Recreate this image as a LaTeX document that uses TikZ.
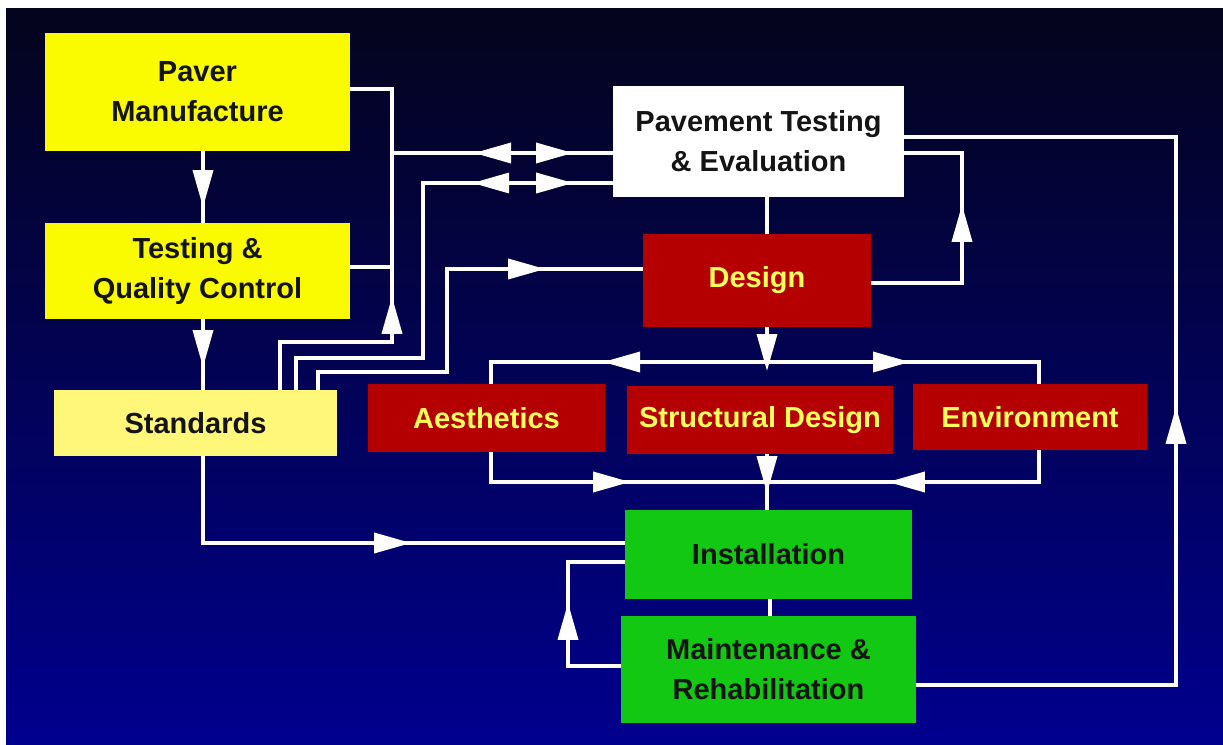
\documentclass[tikz,border=0pt]{standalone}
\usepackage{fontspec}
\setmainfont{Liberation Sans}
\usetikzlibrary{arrows.meta,decorations.markings,calc}
\definecolor{bgtop}{HTML}{04041C}
\definecolor{bgbot}{HTML}{00008E}
\definecolor{yel}{HTML}{FAFA00}
\definecolor{paleyel}{HTML}{FFF77A}
\definecolor{dred}{HTML}{B40000}
\definecolor{grn}{HTML}{12C812}
\definecolor{ytext}{HTML}{FFFF5A}
\definecolor{dtext}{HTML}{141414}
\tikzset{
  tri/.tip={Triangle[length=37pt,width=20pt]},
  box/.style={inner sep=0pt, align=center, font=\fontsize{29}{40}\selectfont\bfseries, text=dtext},
  ybox/.style={box, fill=yel},
  pbox/.style={box, fill=paleyel},
  wbox/.style={box, fill=white},
  rbox/.style={box, fill=dred, text=ytext},
  gbox/.style={box, fill=grn},
  wire/.style={draw=white, line width=3.5pt},
  arr/.style={postaction={decorate,decoration={markings,mark=at position #1 with {\arrow[white]{tri}}}}},
  rarr/.style={postaction={decorate,decoration={markings,mark=at position #1 with {\arrowreversed[white]{tri}}}}}
}
\begin{document}
\begin{tikzpicture}[x=1pt,y=-1pt]
\useasboundingbox (0,0) rectangle (1223,744);
\fill[white] (0,0) rectangle (1223,744);
\shade[top color=bgtop,bottom color=bgbot] (6,8) rectangle (1223,744);

% boxes
\node[ybox, minimum width=305pt, minimum height=118pt] (pm) at (197.5,92) {Paver\\Manufacture};
\node[ybox, minimum width=305pt, minimum height=96pt] (tq) at (197.5,271) {Testing \&\\Quality Control};
\node[pbox, minimum width=283pt, minimum height=66pt] (st) at (195.5,423) {Standards};
\node[wbox, minimum width=291pt, minimum height=111pt] (pt) at (758.5,141.5) {Pavement Testing\\\& Evaluation};
\node[rbox, minimum width=228pt, minimum height=93pt] (de) at (757,280.5) {Design};
\node[rbox, minimum width=237pt, minimum height=68pt] (ae) at (486.5,418) {Aesthetics};
\node[rbox, minimum width=266pt, minimum height=68pt] (sd) at (760,420) {Structural Design};
\node[rbox, minimum width=234pt, minimum height=66pt] (en) at (1030,417) {Environment};
\node[gbox, minimum width=287pt, minimum height=89pt] (in) at (768.5,554.5) {Installation};
\node[gbox, minimum width=295pt, minimum height=107pt] (mr) at (768.5,669.5) {Maintenance \&\\Rehabilitation};

% helper coordinates
\coordinate (x203) at (203,0);
\coordinate (xA) at (280,0);
\coordinate (xB) at (296,0);
\coordinate (xC) at (318,0);
\coordinate (x491) at (491,0);
\coordinate (x767) at (767,0);
\coordinate (x770) at (770,0);
\coordinate (x1039) at (1039,0);
\coordinate (k1) at (392,89);
\coordinate (k2) at (392,267);
\coordinate (k3) at (392,153);
\coordinate (k4) at (423,183);
\coordinate (k5) at (447,269);
\coordinate (k6) at (962,283);
\coordinate (k7) at (962,153);
\coordinate (k8) at (1176,685);
\coordinate (k9) at (1176,137);
\coordinate (bus) at (767,362);
\coordinate (busend) at (767,371);
\coordinate (lbus) at (767,482);
\coordinate (k10) at (203,543);
\coordinate (k11) at (568,666);
\coordinate (k12) at (568,562);

% connectors
\draw[wire, arr=56pt] (pm.south -| x203) -- (tq.north -| x203);
\draw[wire, arr=48pt] (tq.south -| x203) -- (st.north -| x203);
\draw[wire, arr=205pt] (st.north -| xA) -- (280,342) -- (392,342) -- (k1) -- (k1 -| pm.east);
\draw[wire] (k2 -| tq.east) -- (k2);
\draw[wire, rarr=82pt, arr=181pt] (k3) -- (k3 -| pt.west);
\draw[wire, rarr=383pt, arr=484pt] (st.north -| xB) -- (296,358) -- (423,358) -- (k4) -- (k4 -| pt.west);
\draw[wire, arr=348pt] (st.north -| xC) -- (318,372) -- (447,372) -- (k5) -- (k5 -| de.west);
\draw[wire, arr=169pt] (k6 -| de.east) -- (k6) -- (k7) -- (k7 -| pt.east);
\draw[wire] (pt.south -| x767) -- (de.north -| x767);
\draw[wire, arr=538pt] (k8 -| mr.east) -- (k8) -- (k9) -- (k9 -| pt.east);
\draw[wire, -{tri}] (de.south -| x767) -- (busend);
\draw[wire, arr=164pt] (bus) -- (491,362) -- (ae.north -| x491);
\draw[wire, arr=143pt] (bus) -- (1039,362) -- (en.north -| x1039);
\draw[wire, arr=169pt] (ae.south -| x491) -- (491,482) -- (lbus);
\draw[wire, arr=183pt] (en.south -| x1039) -- (1039,482) -- (lbus);
\draw[wire, arr=39pt] (sd.south -| x767) -- (in.north -| x767);
\draw[wire, arr=295pt] (st.south -| x203) -- (k10) -- (k10 -| in.west);
\draw[wire, arr=116pt] (k11 -| mr.west) -- (k11) -- (k12) -- (k12 -| in.west);
\draw[wire] (in.south -| x770) -- (mr.north -| x770);
\end{tikzpicture}
\end{document}
